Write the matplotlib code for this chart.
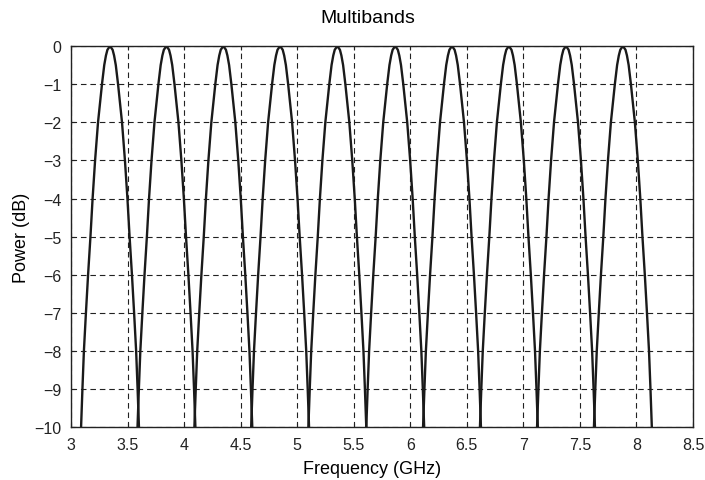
import numpy as np
import matplotlib
matplotlib.use("Agg")
import matplotlib.pyplot as plt

# ── Data ─────────────────────────────────────────────────────────────────────
# peak frequency of each band, GHz
band_centers = [3.345, 3.844, 4.347, 4.849, 5.355, 5.867, 6.369, 6.872, 7.377, 7.880]

# shape of one band: power level (dB) and half-width (GHz) at that level
lobe_levels = [0.0, -0.1, -0.25, -0.5, -1, -2, -3, -4, -5, -6, -7, -8, -9, -10, -10.5]
lobe_halfwidth = [0.0, 0.023, 0.036, 0.051, 0.071, 0.106, 0.132, 0.154,
                  0.173, 0.194, 0.213, 0.231, 0.244, 0.256, 0.262]

xticks = [3, 3.5, 4, 4.5, 5, 5.5, 6, 6.5, 7, 7.5, 8, 8.5]
yticks = [0, -1, -2, -3, -4, -5, -6, -7, -8, -9, -10]

# ── Style ────────────────────────────────────────────────────────────────────
plt.rcParams.update({
    "font.family": ["Liberation Sans", "DejaVu Sans"],
    "font.size": 12,
    "axes.unicode_minus": True,
})

fig = plt.figure(figsize=(7.05, 4.81), dpi=100)
ax = fig.add_axes([71 / 705, 1 - 428.3 / 481, (693 - 71) / 705, (428.3 - 47) / 481])

lv = np.array(lobe_levels)
hw = np.array(lobe_halfwidth)
for c in band_centers:
    xs = np.concatenate([c - hw[::-1], c + hw[1:]])
    ys = np.concatenate([lv[::-1], lv[1:]])
    ax.plot(xs, ys, color="#1a1a1a", linewidth=1.7, solid_joinstyle="round")

ax.set_xlim(3, 8.5)
ax.set_ylim(-10, 0)
ax.set_xticks(xticks)
ax.set_xticklabels([f"{t:g}" for t in xticks])
ax.set_yticks(yticks)
ax.set_yticklabels([f"{t:d}".replace("-", "\u2212") for t in yticks])
ax.tick_params(direction="in", length=3, width=0.8, labelsize=11.5,
               colors="#222222", pad=7, top=True, right=True)

ax.grid(True, color="#222222", linestyle=(0, (5, 3.5)), linewidth=0.8)
for s in ax.spines.values():
    s.set_linewidth(1.0)
    s.set_color("#222222")

ax.set_title("Multibands", fontsize=14, x=(367.5 - 71) / 622, pad=17)
ax.set_xlabel("Frequency (GHz)", fontsize=13)
ax.xaxis.set_label_coords((372.5 - 71) / 622, -0.085)
ax.set_ylabel("Power (dB)", fontsize=13)
ax.yaxis.set_label_coords(-0.066, 0.5)

fig.savefig("out.png", dpi=100)
